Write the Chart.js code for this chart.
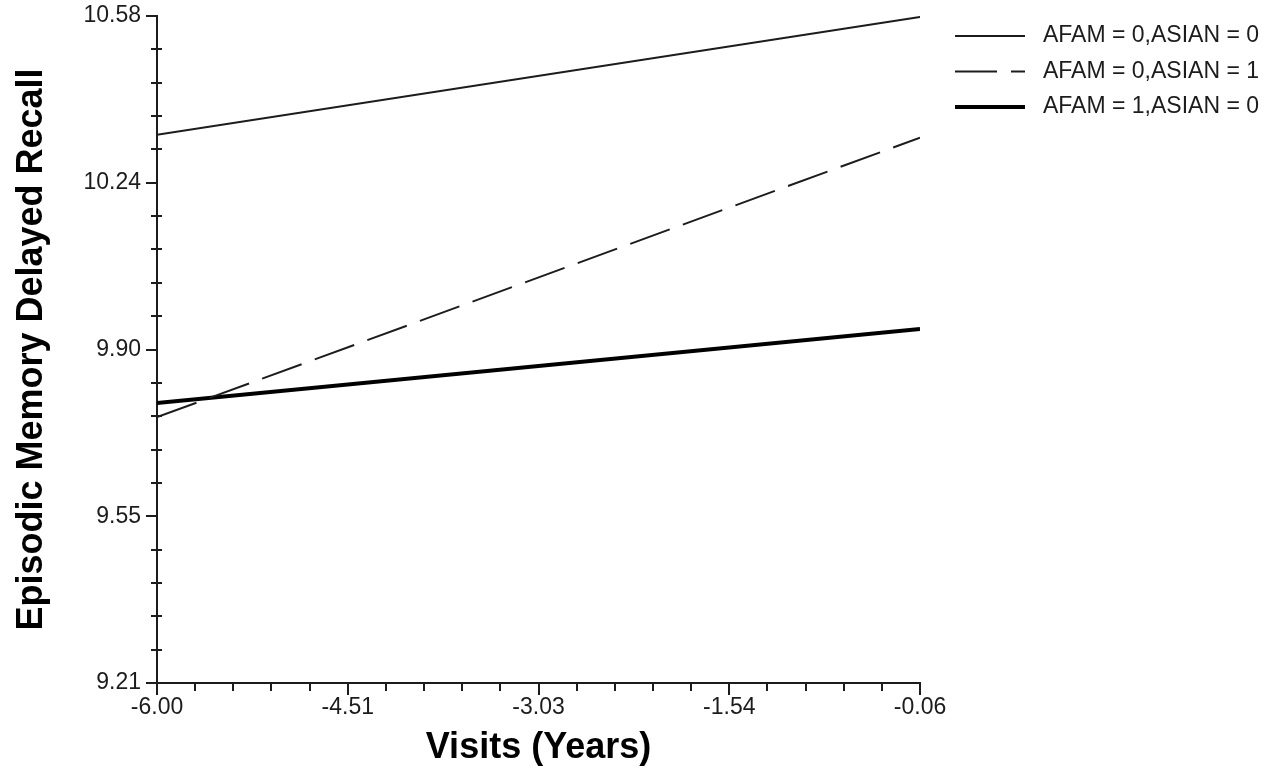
<!DOCTYPE html>
<html>
<head>
<meta charset="utf-8">
<title>Episodic Memory Delayed Recall</title>
<script src="https://cdn.jsdelivr.net/npm/chart.js@4.4.1/dist/chart.umd.min.js"></script>
<style>
  html, body { margin: 0; padding: 0; background: #fff; }
  #wrap { width: 1272px; height: 773px; position: relative; }
</style>
</head>
<body>
<div id="wrap"><canvas id="chart"></canvas></div>
<script>
// Chart data
const seriesLabels = ["AFAM = 0,ASIAN = 0", "AFAM = 0,ASIAN = 1", "AFAM = 1,ASIAN = 0"]
const visits = [-6.00, -0.06]
const recallWhite = [10.336, 10.578]
const recallAsian = [9.756, 10.330]
const recallAfam = [9.785, 9.937]

// Axis tick labels (major ticks, evenly spaced)
const xTickLabels = ["-6.00", "-4.51", "-3.03", "-1.54", "-0.06"]
const yTickLabels = ["9.21", "9.55", "9.90", "10.24", "10.58"]
const minorPerMajor = 5

const ink = "#1c1c1c"
const fontFamily = "'Liberation Sans', Arial, sans-serif"

// Builds major + minor ticks between the first and last label
function buildTicks(labels) {
  return (scale) => {
    const lo = parseFloat(labels[0])
    const hi = parseFloat(labels[labels.length - 1])
    const steps = (labels.length - 1) * minorPerMajor
    const ticks = []
    for (let i = 0; i <= steps; i++) {
      ticks.push({ value: lo + (hi - lo) * i / steps, major: i % minorPerMajor === 0 })
    }
    scale.ticks = ticks
  }
}

function tickLabel(labels) {
  return (value, index) => index % minorPerMajor === 0 ? labels[index / minorPerMajor] : ""
}

function toPoints(ys) {
  return visits.map((x, i) => ({ x: x, y: ys[i] }))
}

// Tick marks: major/minor lengths like the original plot
const tickMarks = {
  id: "tickMarks",
  afterDraw(chart) {
    const ctx = chart.ctx
    const xs = chart.scales.x
    const ys = chart.scales.y
    const axisX = chart.chartArea.left
    const axisY = chart.chartArea.bottom
    ctx.save()
    ctx.strokeStyle = ink
    ctx.lineWidth = 2
    ctx.beginPath()
    xs.ticks.forEach((t) => {
      const px = Math.round(xs.getPixelForValue(t.value))
      ctx.moveTo(px, axisY)
      ctx.lineTo(px, axisY + (t.major ? 12 : 8))
    })
    ys.ticks.forEach((t) => {
      const py = Math.round(ys.getPixelForValue(t.value))
      if (t.major) {
        ctx.moveTo(axisX - 11, py)
        ctx.lineTo(axisX, py)
      } else {
        ctx.moveTo(axisX - 6, py)
        ctx.lineTo(axisX + 5, py)
      }
    })
    ctx.stroke()
    ctx.restore()
  },
}

// Legend at the right, drawn with each dataset's own line style
const sideLegend = {
  id: "sideLegend",
  afterDraw(chart) {
    const ctx = chart.ctx
    ctx.save()
    ctx.font = "23px " + fontFamily
    ctx.textBaseline = "middle"
    ctx.textAlign = "left"
    chart.data.datasets.forEach((ds, i) => {
      const y = 36 + i * 35.5
      ctx.strokeStyle = ds.borderColor
      ctx.lineWidth = ds.borderWidth
      ctx.setLineDash(ds.borderDash || [])
      ctx.beginPath()
      ctx.moveTo(955, y)
      ctx.lineTo(1025, y)
      ctx.stroke()
      ctx.setLineDash([])
      ctx.fillStyle = ink
      ctx.fillText(ds.label, 1043, y)
    })
    ctx.restore()
  },
}

new Chart(document.getElementById("chart"), {
  type: "line",
  data: {
    datasets: [
      { label: seriesLabels[0], data: toPoints(recallWhite), borderColor: ink, borderWidth: 2 },
      { label: seriesLabels[1], data: toPoints(recallAsian), borderColor: ink, borderWidth: 2, borderDash: [42, 14] },
      { label: seriesLabels[2], data: toPoints(recallAfam), borderColor: "#000", borderWidth: 4 },
    ],
  },
  options: {
    responsive: true,
    maintainAspectRatio: false,
    animation: false,
    events: [],
    layout: { autoPadding: false, padding: { top: 16, right: 352, left: 0, bottom: 0 } },
    elements: { point: { radius: 0 }, line: { tension: 0 } },
    plugins: { legend: { display: false }, tooltip: { enabled: false } },
    scales: {
      x: {
        type: "linear",
        min: parseFloat(xTickLabels[0]),
        max: parseFloat(xTickLabels[xTickLabels.length - 1]),
        afterBuildTicks: buildTicks(xTickLabels),
        afterFit: (s) => { s.height = 90; s.paddingLeft = 0; s.paddingRight = 0 },
        grid: { display: false },
        border: { display: true, color: ink, width: 2 },
        ticks: {
          autoSkip: false,
          maxRotation: 0,
          padding: 3,
          color: ink,
          font: { family: fontFamily, size: 23 },
          callback: tickLabel(xTickLabels),
        },
        title: {
          display: true,
          text: "Visits (Years)",
          color: "#000",
          font: { family: fontFamily, size: 36, weight: "bold" },
          padding: { top: 0, bottom: 3 },
        },
      },
      y: {
        type: "linear",
        min: parseFloat(yTickLabels[0]),
        max: parseFloat(yTickLabels[yTickLabels.length - 1]),
        afterBuildTicks: buildTicks(yTickLabels),
        afterFit: (s) => { s.width = 157; s.paddingTop = 0; s.paddingBottom = 0 },
        grid: { display: false },
        border: { display: true, color: ink, width: 2 },
        ticks: {
          autoSkip: false,
          padding: 8,
          color: ink,
          font: { family: fontFamily, size: 23 },
          callback: tickLabel(yTickLabels),
        },
        title: {
          display: true,
          text: "Episodic Memory Delayed Recall",
          color: "#000",
          font: { family: fontFamily, size: 36, weight: "bold" },
          padding: { top: 10, bottom: 0 },
        },
      },
    },
  },
  plugins: [tickMarks, sideLegend],
})
</script>
</body>
</html>
